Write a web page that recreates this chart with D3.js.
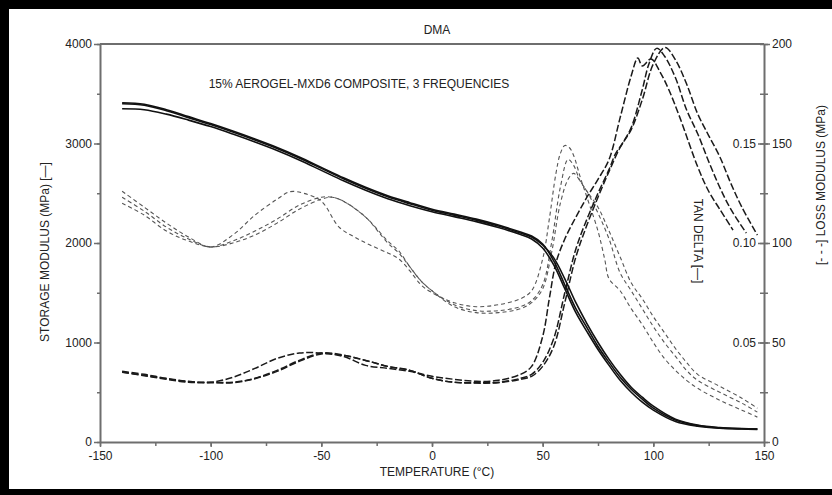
<!DOCTYPE html>
<html><head><meta charset="utf-8">
<script src="https://cdn.jsdelivr.net/npm/d3@7/dist/d3.min.js"></script>
<style>
html,body{margin:0;padding:0;background:#000;}
svg{display:block;}
text{font-family:"Liberation Sans Narrow","Arial Narrow","Liberation Sans",Arial,sans-serif;fill:#222;}
</style></head>
<body>
<svg id="c" width="832" height="495"></svg>
<script>
// ---------- DATA ----------
const title = "DMA";
const subtitle = "15% AEROGEL-MXD6 COMPOSITE, 3 FREQUENCIES";
const xLabel = "TEMPERATURE (°C)";
const yLeftLabel = "STORAGE MODULUS (MPa) [—]";
const yRightLabel = "[- - -] LOSS MODULUS (MPa)";
const tanLabel = "TAN DELTA [—]";

const xTicks = [-150,-100,-50,0,50,100,150];
const yLeftTicks = [0,1000,2000,3000,4000];
const yRightTicks = [0,50,100,150,200];
const tanTicks = [0.05,0.10,0.15];

// Storage modulus (MPa), three frequencies
const storageT = [-140,-130,-120,-110,-100,-90,-80,-70,-60,-50,-40,-30,-20,-10,0,10,20,30,40,45,50,55,60,65,70,75,80,85,90,95,100,110,120,130,140,147];
const storage1 = [3410,3395,3340,3270,3200,3125,3045,2960,2865,2760,2655,2560,2475,2405,2340,2290,2240,2180,2110,2070,1990,1820,1580,1340,1150,960,800,650,530,430,340,220,165,142,133,130];
const storage2 = [3400,3385,3330,3260,3190,3115,3035,2950,2855,2750,2645,2550,2465,2395,2330,2280,2230,2170,2100,2060,1980,1850,1640,1400,1190,1000,830,680,550,450,360,230,170,145,135,131];
const storage3 = [3350,3340,3295,3235,3170,3095,3015,2930,2835,2730,2625,2530,2445,2375,2315,2265,2215,2155,2085,2040,1950,1780,1540,1300,1110,930,770,620,500,400,320,205,158,138,130,127];

// Loss modulus (MPa)
const lossT1 = [-140,-130,-120,-110,-100,-90,-80,-70,-64,-58,-50,-42,-35,-28,-20,-15,-10,-5,0,10,20,30,40,45,50,53,56,58,60,62,64,67,70,75,78,80,85,90,95,100,105,110,115,120,130,140,147];
const loss1 = [126,118,110,103,98,104,114,122,125.8,125,121,108,103,99,95,92,86,79,75,70,68,69,72,76,92,112,135,145,149,148,144,133,123,106,92,82,76,67,59,50,42,36,31,27,21,16,12.5];
const lossT2 = [-140,-130,-120,-110,-100,-90,-80,-70,-60,-50,-45,-40,-30,-20,-15,-10,-5,0,10,20,30,40,45,50,54,58,61.5,64,67,70,75,80,85,90,95,100,105,110,115,120,130,140,147];
const loss2 = [123,116,108,102,98,101,106,112,119,123,123,121,113,101,96,88,81,76,69,66,66,68,71,79,100,128,142,139,131,126,115,102,85,76,67,58,50,43,36,31,25,19.5,15];
const loss3 = [120,114,106,101,98,100,104,110,117,122,123,121,113,100,95,88,81,76,68,65,65,67,70,77,95,120,132,135,131,126,118,106,93,80,72,63,55,47,40,34,28,22,17];

// Tan delta
const tanT1 = [-140,-130,-120,-110,-100,-90,-80,-70,-60,-50,-40,-30,-20,-10,0,10,20,30,40,45,50,53,56,60,65,70,75,80,85,90,93,95,99,103,107,112,120,125,130,136];
const tan1 = [0.0355,0.034,0.032,0.0305,0.030,0.0325,0.037,0.042,0.0447,0.0447,0.043,0.0385,0.037,0.0355,0.033,0.0315,0.0305,0.031,0.034,0.038,0.053,0.072,0.090,0.102,0.113,0.123,0.132,0.142,0.163,0.184,0.193,0.189,0.1925,0.186,0.177,0.163,0.1384,0.126,0.117,0.1065];
const tanT2 = [-140,-130,-120,-110,-100,-90,-80,-70,-60,-50,-40,-30,-20,-10,0,10,20,30,40,45,50,55,60,65,70,75,80,83,86,90,95,98,101.5,105,110,115,120,125,130,135,142];
const tan2 = [0.0352,0.0335,0.0318,0.0303,0.030,0.030,0.032,0.036,0.041,0.0447,0.0437,0.041,0.038,0.036,0.032,0.030,0.0298,0.030,0.032,0.034,0.040,0.052,0.075,0.097,0.112,0.125,0.137,0.145,0.150,0.158,0.177,0.190,0.1978,0.194,0.183,0.167,0.155,0.141,0.128,0.117,0.105];
const tanT3 = [-140,-130,-120,-110,-100,-90,-80,-70,-60,-50,-40,-30,-20,-10,0,10,20,30,40,45,50,55,60,65,70,75,80,85,90,95,100,105.3,110,115,120,125,130,135,140,147];
const tan3 = [0.035,0.0333,0.0315,0.030,0.0298,0.0298,0.0318,0.0355,0.0405,0.0442,0.0435,0.041,0.038,0.036,0.032,0.030,0.0296,0.0298,0.0315,0.033,0.038,0.048,0.070,0.093,0.109,0.123,0.136,0.148,0.157,0.172,0.190,0.1983,0.192,0.180,0.165,0.154,0.1434,0.130,0.118,0.104];

// ---------- CHART ----------
const svg = d3.select("#c");
svg.append("rect").attr("x",9).attr("y",9).attr("width",823).attr("height",480).attr("fill","#fff");

const x = d3.scaleLinear().domain([-150,150]).range([100,764]);
const yL = d3.scaleLinear().domain([0,4000]).range([442,44]);
const yR = d3.scaleLinear().domain([0,200]).range([442,44]);
const yT = d3.scaleLinear().domain([0,0.2]).range([442,44]);

const axisColor = "#6e6e6e";
const plain = d=>String(d);
function styleAxis(g){
  g.select(".domain").attr("stroke",axisColor).attr("stroke-width",2);
  g.selectAll(".tick line").attr("stroke",axisColor).attr("stroke-width",1.5);
  g.selectAll("text").attr("font-size",12).attr("fill","#222")
   .attr("font-family",'"Liberation Sans Narrow","Arial Narrow","Liberation Sans",Arial,sans-serif');
}

// top frame line
svg.append("line").attr("x1",x(-150)).attr("x2",x(150)).attr("y1",yL(4000)).attr("y2",yL(4000))
  .attr("stroke",axisColor).attr("stroke-width",2);

// x axis: minor ticks + major
svg.append("g").attr("transform","translate(0,442)")
  .call(d3.axisBottom(x).tickValues(d3.range(-150,151,25)).tickSize(4).tickFormat("").tickSizeOuter(0))
  .call(styleAxis);
svg.append("g").attr("transform","translate(0,442)")
  .call(d3.axisBottom(x).tickValues(xTicks).tickSize(5).tickPadding(4).tickSizeOuter(0).tickFormat(plain))
  .call(styleAxis).call(g=>g.select(".domain").remove());

// left axis
svg.append("g").attr("transform","translate(100,0)")
  .call(d3.axisLeft(yL).tickValues(d3.range(0,4001,500)).tickSize(3).tickFormat("").tickSizeOuter(0))
  .call(styleAxis);
svg.append("g").attr("transform","translate(100,0)")
  .call(d3.axisLeft(yL).tickValues(yLeftTicks).tickSize(6).tickPadding(2).tickSizeOuter(0).tickFormat(plain))
  .call(styleAxis).call(g=>g.select(".domain").remove());

// right axis (loss modulus) outer side
svg.append("g").attr("transform","translate(764,0)")
  .call(d3.axisRight(yR).tickValues(d3.range(0,201,25)).tickSize(4).tickFormat("").tickSizeOuter(0))
  .call(styleAxis);
svg.append("g").attr("transform","translate(764,0)")
  .call(d3.axisRight(yR).tickValues(yRightTicks).tickSize(6).tickPadding(2).tickSizeOuter(0).tickFormat(plain))
  .call(styleAxis).call(g=>g.select(".domain").remove());
// inner ticks of right axis, tan delta labels
svg.append("g").attr("transform","translate(764,0)")
  .call(d3.axisLeft(yR).tickValues(d3.range(25,201,25)).tickSize(4).tickFormat("").tickSizeOuter(0))
  .call(styleAxis).call(g=>g.select(".domain").remove());
svg.append("g").attr("transform","translate(764,0)")
  .call(d3.axisLeft(yT).tickValues(tanTicks).tickSize(6).tickPadding(2).tickSizeOuter(0).tickFormat(d3.format(".2f")))
  .call(styleAxis).call(g=>g.select(".domain").remove());

// curves
const line = (ys)=>d3.line().x(d=>x(d[0])).y(d=>ys(d[1])).curve(d3.curveCatmullRom.alpha(0.5));
const zip = (a,b)=>a.map((t,i)=>[t,b[i]]);

const lossSeries = [[lossT1,loss1],[lossT2,loss2],[lossT2,loss3]];
lossSeries.forEach(([t,v])=>{
  svg.append("path").attr("d",line(yR)(zip(t,v))).attr("fill","none")
    .attr("stroke","#555").attr("stroke-width",1.1).attr("stroke-dasharray","4,3");
});
const tanSeries = [[tanT1,tan1],[tanT2,tan2],[tanT3,tan3]];
tanSeries.forEach(([t,v])=>{
  svg.append("path").attr("d",line(yT)(zip(t,v))).attr("fill","none")
    .attr("stroke","#1a1a1a").attr("stroke-width",1.5).attr("stroke-dasharray","7,2.5");
});
[storage1,storage2,storage3].forEach(v=>{
  svg.append("path").attr("d",line(yL)(zip(storageT,v))).attr("fill","none")
    .attr("stroke","#111").attr("stroke-width",1.6);
});

// texts
const fs = 12;
svg.append("text").attr("x",437).attr("y",34).attr("text-anchor","middle").attr("font-size",fs).text(title);
svg.append("text").attr("x",359).attr("y",88).attr("text-anchor","middle").attr("font-size",fs).text(subtitle);
svg.append("text").attr("x",437).attr("y",476).attr("text-anchor","middle").attr("font-size",fs).text(xLabel);
svg.append("text").attr("transform","translate(49,252) rotate(-90)").attr("text-anchor","middle").attr("font-size",fs).text(yLeftLabel);
svg.append("text").attr("transform","translate(825,185) rotate(-90)").attr("text-anchor","middle").attr("font-size",fs).text(yRightLabel);
svg.append("text").attr("transform","translate(694,241) rotate(90)").attr("text-anchor","middle").attr("font-size",fs).text(tanLabel);
</script>
</body></html>
